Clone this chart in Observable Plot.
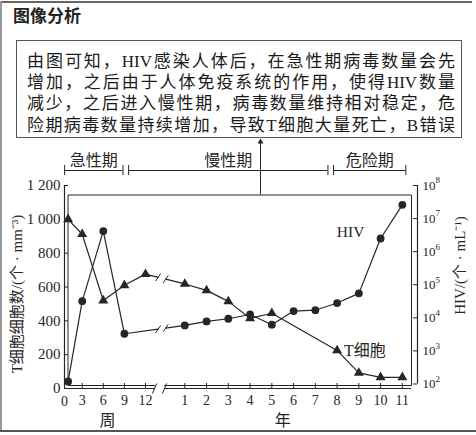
<!DOCTYPE html>
<html><head><meta charset="utf-8">
<script src="https://cdn.jsdelivr.net/npm/d3@7"></script>
<script src="https://cdn.jsdelivr.net/npm/@observablehq/plot@0.6"></script>
<style>
html,body{margin:0;padding:0;background:#fff;}
#page{position:relative;width:476px;height:435px;overflow:hidden;background:#fff;}
#topline{position:absolute;left:0;top:1px;width:472px;height:2px;background:#666;}
#leftline{position:absolute;left:0;top:1px;width:2px;height:431px;background:#999;}
#bottomline{position:absolute;left:0;top:430px;width:476px;height:2px;background:#555;}
#title{position:absolute;left:13px;top:4px;font:700 17px "Noto Sans CJK SC";color:#222;line-height:22px;}
#box{position:absolute;left:16px;top:40px;width:446px;height:98px;box-sizing:border-box;border:1px solid #555;padding:10px 6px 0 10px;font-family:"Liberation Serif","Noto Sans CJK SC";font-size:17px;line-height:21.2px;color:#1a1a1a;}
#box div{text-align:justify;text-align-last:justify;}
#chart{position:absolute;left:0;top:137px;}
</style>
</head><body>
<div id="page">
  <div id="topline"></div><div id="leftline"></div><div id="bottomline"></div>
  <div id="title">图像分析</div>
  <div id="box"></div>
  <div id="chart"></div>
</div>
<script>
// ---- data ----
const boxLines = [
  "由图可知，HIV感染人体后，在急性期病毒数量会先",
  "增加，之后由于人体免疫系统的作用，使得HIV数量",
  "减少，之后进入慢性期，病毒数量维持相对稳定，危",
  "险期病毒数量持续增加，导致T细胞大量死亡，B错误"
];
const weekTicks = [0, 3, 6, 9, 12];
const yearTicks = [1, 2, 3, 4, 5, 6, 7, 8, 9, 10, 11];
const leftTicks = [0, 200, 400, 600, 800, 1000, 1200];
const hivTicks = [1e2, 1e3, 1e4, 1e5, 1e6, 1e7, 1e8];
const hivExp = ["2", "3", "4", "5", "6", "7", "8"];

const tWeeks = [1, 3, 6, 9, 12];
const tWeekCells = [1000, 912, 520, 610, 676];
const tYears = [1, 2, 3, 4, 5, 8, 9, 10, 11];
const tYearCells = [618, 580, 515, 415, 445, 225, 92, 66, 66];

const hivWeeks = [1, 3, 6, 9];
const hivWeekLoad = [1.2e2, 3.2e4, 4.2e6, 3.3e3];
const hivYears = [1, 2, 3, 4, 5, 6, 7, 8, 9, 10, 11];
const hivYearLoad = [5.9e3, 7.8e3, 9.4e3, 1.26e4, 6.2e3, 1.6e4, 1.7e4, 2.8e4, 5.5e4, 2.5e6, 2.6e7];

const phaseNames = ["急性期", "慢性期", "危险期"];
const phaseStart = [{unit: "w", t: 0.5}, {unit: "w", t: 9.6}, {unit: "y", t: 7.84}];
const phaseEnd = [{unit: "w", t: 8.8}, {unit: "y", t: 7.58}, {unit: "y", t: 11.16}];

const leftLabel = "T细胞细胞数/(个 · mm⁻³)";
const rightLabel = "HIV/(个 · mL⁻¹)";

// ---- layout helpers ----
document.getElementById("box").innerHTML = boxLines.map(s => `<div>${s}</div>`).join("");

const weekPos = w => w / 3;
const yearPos = y => 5.863 + (y - 1) * 1.031;
const toPos = p => p.unit === "w" ? weekPos(p.t) : yearPos(p.t);
const XMIN = 0.161, XMAX = 16.891;
const PLOT_H = 203, U = 1200 / PLOT_H;        // y units per pixel
const PXU = (XMAX - XMIN) / 353;             // x units per pixel
const hivY = v => 4.5 * U + (Math.log10(v) - 2) * 33.08 * U;
const LINE_BREAK = [4.6, 4.96];
const AXIS_BREAK = [4.43, 4.9];

function broken(weekPts, yearPts) {
  const a = weekPts[weekPts.length - 1], b = yearPts[0];
  const at = p => a[1] + (b[1] - a[1]) * (p - a[0]) / (b[0] - a[0]);
  const s1 = [...weekPts, [LINE_BREAK[0], at(LINE_BREAK[0])]].map(d => ({x: d[0], y: d[1], seg: 0}));
  const s2 = [[LINE_BREAK[1], at(LINE_BREAK[1])], ...yearPts].map(d => ({x: d[0], y: d[1], seg: 1}));
  return {line: s1.concat(s2), slashes: LINE_BREAK.map(p => [p, at(p)])};
}
const tW = tWeeks.map((w, i) => [weekPos(w), tWeekCells[i]]);
const tY = tYears.map((y, i) => [yearPos(y), tYearCells[i]]);
const hW = hivWeeks.map((w, i) => [weekPos(w), hivY(hivWeekLoad[i])]);
const hY = hivYears.map((y, i) => [yearPos(y), hivY(hivYearLoad[i])]);
const tB = broken(tW, tY), hB = broken(hW, hY);

const xTicks = weekTicks.map(w => ({p: weekPos(w), l: String(w)}))
  .concat(yearTicks.map(y => ({p: yearPos(y), l: String(y)})));

const fL = XMIN + 3.5 * PXU, fR = XMAX - 6 * PXU, fT = 1200 - 9.5 * U, fB = 3 * U;
const framePts = [[AXIS_BREAK[0], fB], [fL, fB], [fL, fT], [fR, fT], [fR, fB], [AXIS_BREAK[1], fB]];

const phases = phaseNames.map((n, i) => ({n, a: toPos(phaseStart[i]), b: toPos(phaseEnd[i])}));
const brY = (251 - 33) * U, brLab = (251 - 23) * U;
const arrowX = yearPos(4.48), arrowTop = (251 - 1) * U;

const ink = "#262626";
const serif = '"Liberation Serif", "Noto Sans CJK SC"';
const cjk = '"Noto Sans CJK SC"';
const fmtLeft = d => d >= 1000 ? String(d).replace(/(\d)(\d{3})$/, "$1 $2") : String(d);

const chart = Plot.plot({
  width: 476, height: 298,
  marginLeft: 64, marginRight: 59, marginTop: 48, marginBottom: 47,
  x: {domain: [XMIN, XMAX], axis: null},
  y: {domain: [0, 1200], axis: null},
  style: {background: "transparent", overflow: "visible"},
  marks: [
    // inner frame
    Plot.line(framePts, {x: d => d[0], y: d => d[1], stroke: ink, strokeWidth: 1}),
    // axes lines
    Plot.ruleX([XMIN], {y1: 0, y2: 1200, stroke: ink, strokeWidth: 1.2}),
    Plot.ruleX([XMAX], {y1: hivY(1e2), y2: 1200, stroke: ink, strokeWidth: 1.2}),
    Plot.ruleY([[XMIN, AXIS_BREAK[0]], [AXIS_BREAK[1], fR]], {y: () => 0, x1: d => d[0], x2: d => d[1], stroke: ink, strokeWidth: 1.2}),
    // axis break slashes
    Plot.link(AXIS_BREAK, {x1: d => d - 0.1, x2: d => d + 0.1, y1: () => -30, y2: () => 30, stroke: ink, strokeWidth: 1}),
    // ticks
    Plot.ruleY(leftTicks, {y: d => d, x1: () => XMIN, x2: () => XMIN + 4 * PXU, stroke: ink}),
    Plot.ruleY(hivTicks, {y: hivY, x1: () => XMAX - 4 * PXU, x2: () => XMAX, stroke: ink}),
    Plot.ruleX(xTicks.filter(d => d.p > 0), {x: "p", y1: () => 0, y2: () => 5 * U, stroke: ink}),
    // tick labels
    Plot.text(leftTicks, {x: () => XMIN, y: d => d, text: fmtLeft, textAnchor: "end", dx: -4, fontSize: 15, fontFamily: serif, fill: ink}),
    Plot.text(hivTicks, {x: () => XMAX, y: hivY, text: () => "10", textAnchor: "start", dx: 5, fontSize: 13, fontFamily: serif, fill: ink}),
    Plot.text(hivTicks, {x: () => XMAX, y: hivY, text: (d, i) => hivExp[i], textAnchor: "start", dx: 18, dy: -5, fontSize: 9, fontFamily: serif, fill: ink}),
    Plot.text(xTicks.filter(d => d.p > 0), {x: "p", y: () => 0, text: "l", dy: 12, fontSize: 14, fontFamily: serif, fill: ink}),
    Plot.text(xTicks.filter(d => d.p === 0), {x: "p", y: () => 0, text: "l", dx: 3.5, dy: 13, fontSize: 14, fontFamily: serif, fill: ink}),
    Plot.text(["周"], {x: () => weekPos(6.6), y: () => -32 * U, text: d => d, fontSize: 16, fontFamily: cjk, fill: ink}),
    Plot.text(["年"], {x: () => yearPos(5.5), y: () => -32 * U, text: d => d, fontSize: 16, fontFamily: cjk, fill: ink}),
    // axis titles
    Plot.text([leftLabel], {x: () => XMIN, y: () => (251 - 156.5) * U, text: d => d, rotate: -90, dx: -47, fontSize: 15, fontFamily: serif, fill: ink}),
    Plot.text([rightLabel], {x: () => XMAX, y: () => (251 - 128) * U, text: d => d, rotate: -90, dx: 43, fontSize: 15, fontFamily: serif, fill: ink}),
    // phase brackets
    Plot.ruleY(phases, {y: () => brY, x1: "a", x2: "b", stroke: ink}),
    Plot.ruleX(phases.flatMap(d => [d.a, d.b]), {x: d => d, y1: () => brY - 5 * U, y2: () => brY + 5 * U, stroke: ink}),
    Plot.text(phases, {x: d => (d.a + d.b) / 2, y: () => brLab, text: "n", fontSize: 16, fontFamily: cjk, fill: ink}),
    // arrow to text box
    Plot.ruleX([arrowX], {y1: () => fT, y2: () => arrowTop - 4 * U, stroke: ink}),
    Plot.dot([arrowX], {x: d => d, y: () => arrowTop - 3.4 * U, symbol: "triangle", r: 2.2, fill: ink, stroke: null}),
    // data lines
    Plot.line(tB.line, {x: "x", y: "y", z: "seg", stroke: ink, strokeWidth: 1.2}),
    Plot.line(hB.line, {x: "x", y: "y", z: "seg", stroke: ink, strokeWidth: 1.2}),
    Plot.link(tB.slashes.concat(hB.slashes), {x1: d => d[0] - 0.12, x2: d => d[0] + 0.12, y1: d => d[1] - 22, y2: d => d[1] + 22, stroke: ink, strokeWidth: 1}),
    Plot.dot(tB.line.filter(d => !LINE_BREAK.includes(d.x)), {x: "x", y: "y", symbol: "triangle", r: 3.7, fill: ink, stroke: null}),
    Plot.dot(hB.line.filter(d => !LINE_BREAK.includes(d.x)), {x: "x", y: "y", symbol: "circle", r: 3.9, fill: ink, stroke: null}),
    // series labels
    Plot.text(["HIV"], {x: () => yearPos(8.62), y: () => hivY(4e6), text: d => d, fontSize: 15.5, fontFamily: serif, fill: ink}),
    Plot.text(["T细胞"], {x: () => yearPos(8), y: () => 225, text: d => d, textAnchor: "start", dx: 7, fontSize: 16, fontFamily: serif, fill: ink})
  ]
});
document.getElementById("chart").appendChild(chart);
</script>
</body></html>
